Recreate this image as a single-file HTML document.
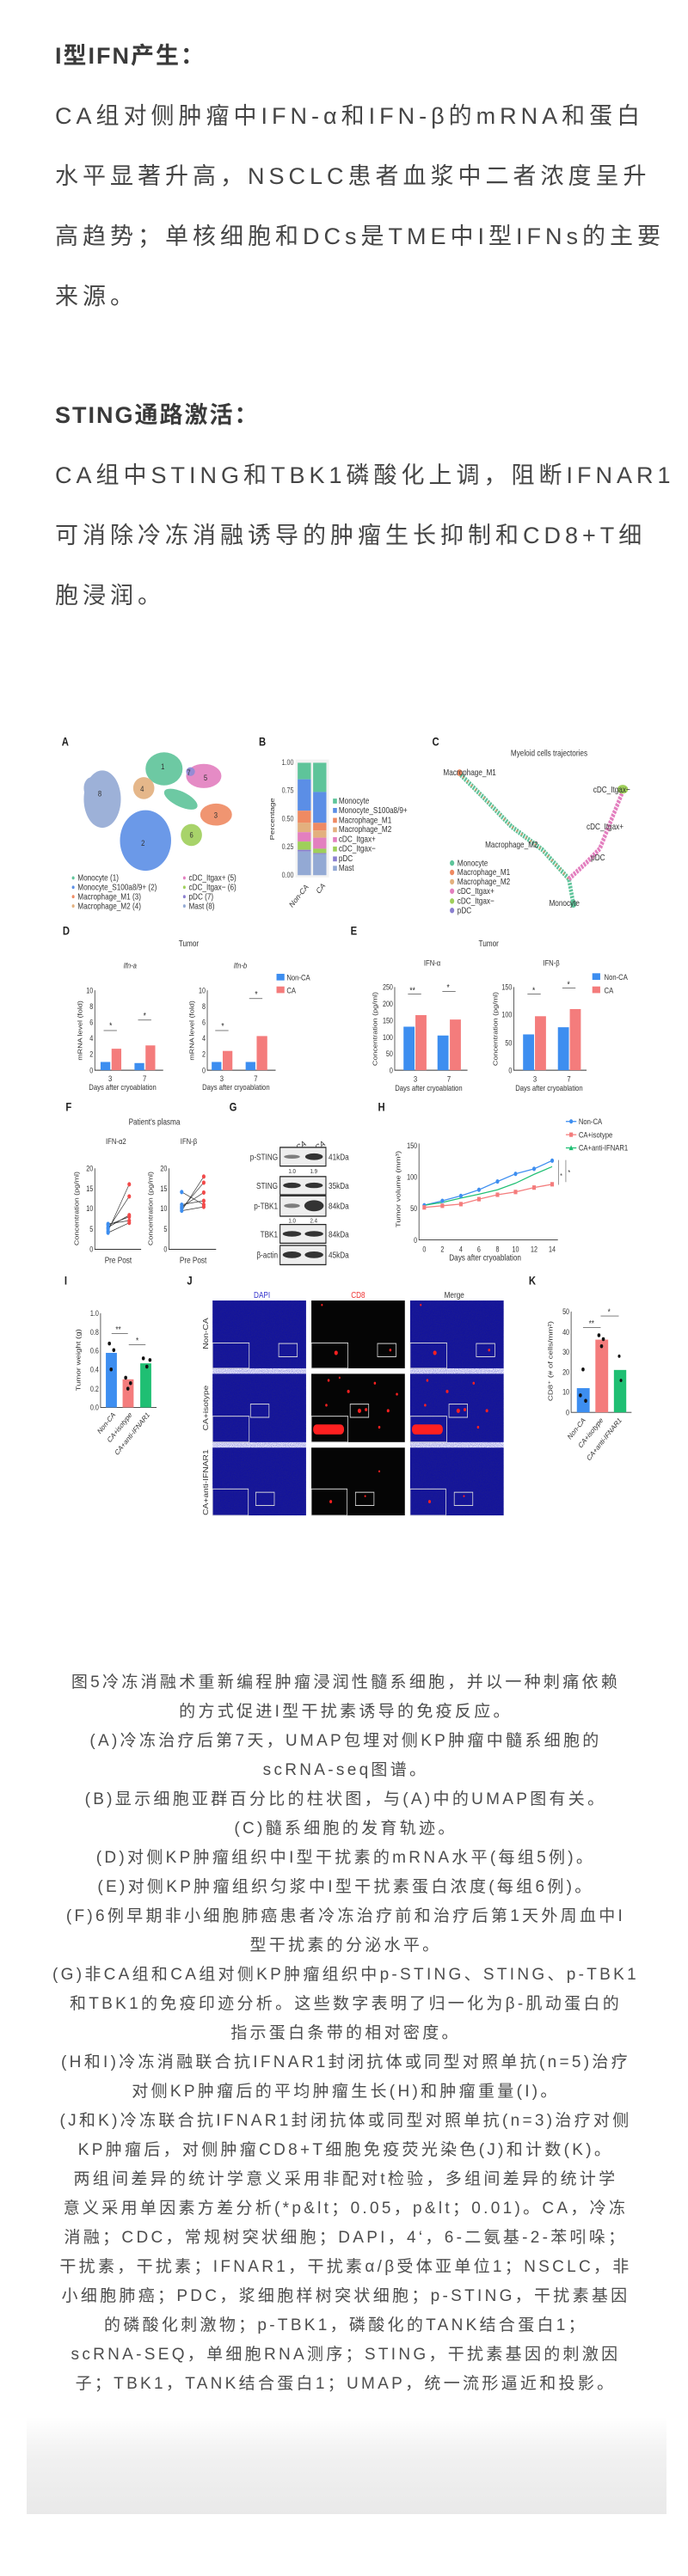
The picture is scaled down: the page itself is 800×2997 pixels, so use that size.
<!DOCTYPE html>
<html><head><meta charset="utf-8">
<style>
html,body{margin:0;padding:0;background:#fff;}
body{width:800px;height:2997px;position:relative;overflow:hidden;font-family:"Liberation Sans","Noto Sans CJK SC",sans-serif;}
.blk{position:absolute;left:64px;width:682px;color:#454545;font-size:27px;letter-spacing:5px;line-height:70px;}
.blk span{display:block;white-space:nowrap;}
.blk .j{text-align:justify;text-align-last:justify;}
.blk .h{font-weight:bold;color:#3a3a3a;letter-spacing:2px;}
.cap{position:absolute;left:0;width:804px;top:1941px;text-align:center;color:#4d4d4d;font-size:19px;letter-spacing:3.3px;line-height:34px;}
.cap span{display:block;white-space:nowrap;}
.gray{position:absolute;left:31px;top:2812px;width:744px;height:113px;background:linear-gradient(#ffffff,#f1f1f1 40%,#e9e9e9);}
svg text{font-family:"Liberation Sans",sans-serif;}
</style></head><body>

<div class="blk" style="top:30px">
<span class="h">I型IFN产生：</span>
<span class="j">CA组对侧肿瘤中IFN-α和IFN-β的mRNA和蛋白</span>
<span class="j">水平显著升高，NSCLC患者血浆中二者浓度呈升</span>
<span class="j">高趋势；单核细胞和DCs是TME中I型IFNs的主要</span>
<span>来源。</span>
</div>

<div class="blk" style="top:448px">
<span class="h">STING通路激活：</span>
<span class="j">CA组中STING和TBK1磷酸化上调，阻断IFNAR1</span>
<span class="j">可消除冷冻消融诱导的肿瘤生长抑制和CD8+T细</span>
<span>胞浸润。</span>
</div>

<svg style="position:absolute;left:0;top:840px" width="800" height="1000" viewBox="0 0 1560 1560" preserveAspectRatio="none">
<defs>
<filter id="spk"><feTurbulence type="fractalNoise" baseFrequency="0.9" numOctaves="1" result="n"/><feColorMatrix in="n" type="matrix" values="0 0 0 0 0  0 0 0 0 0  0 0 0 0 0.5  0 0 0 1.2 -0.4" result="m"/><feComposite in="m" in2="SourceGraphic" operator="in"/></filter>
</defs>
<g font-weight="bold" font-size="22" fill="#222">
<text x="140" y="43">A</text><text x="587" y="43">B</text><text x="980" y="43">C</text>
<text x="142" y="386">D</text><text x="795" y="386">E</text>
<text x="149" y="706">F</text><text x="520" y="706">G</text><text x="857" y="706">H</text>
<text x="146" y="1021">I</text><text x="424" y="1021">J</text><text x="1199" y="1021">K</text>
</g>
<!-- A UMAP -->
<g opacity="0.9">
<ellipse cx="232" cy="140" rx="42" ry="52" fill="#93a9d4"/>
<ellipse cx="208" cy="120" rx="18" ry="20" fill="#93a9d4"/>
<ellipse cx="330" cy="215" rx="58" ry="55" fill="#5b8ee6"/>
<ellipse cx="372" cy="85" rx="42" ry="30" fill="#5ec49a"/>
<ellipse cx="410" cy="140" rx="40" ry="14" fill="#5ec49a" transform="rotate(20 410 140)"/>
<ellipse cx="326" cy="120" rx="24" ry="20" fill="#e3b07e"/>
<ellipse cx="462" cy="98" rx="40" ry="22" fill="#e37fbf"/>
<ellipse cx="432" cy="90" rx="10" ry="8" fill="#8a7fd0"/>
<ellipse cx="490" cy="168" rx="36" ry="20" fill="#ef8a62"/>
<ellipse cx="434" cy="205" rx="24" ry="20" fill="#9fcf5a"/>
</g>
<g font-size="15" fill="#333"><text x="365" y="86">1</text><text x="320" y="225">2</text><text x="485" y="174">3</text><text x="318" y="126">4</text><text x="462" y="106">5</text><text x="430" y="210">6</text><text x="424" y="97">7</text><text x="222" y="135">8</text></g>
<g font-size="16" fill="#333">
<circle cx="166" cy="283" r="3" fill="#5ec49a"/><text x="176" y="288">Monocyte (1)</text>
<circle cx="166" cy="300" r="3" fill="#5b8ee6"/><text x="176" y="305">Monocyte_S100a8/9+ (2)</text>
<circle cx="166" cy="317" r="3" fill="#ef8a62"/><text x="176" y="322">Macrophage_M1 (3)</text>
<circle cx="166" cy="334" r="3" fill="#e3b07e"/><text x="176" y="339">Macrophage_M2 (4)</text>
<circle cx="418" cy="283" r="3" fill="#e37fbf"/><text x="428" y="288">cDC_Itgax+ (5)</text>
<circle cx="418" cy="300" r="3" fill="#9fcf5a"/><text x="428" y="305">cDC_Itgax− (6)</text>
<circle cx="418" cy="317" r="3" fill="#8a7fd0"/><text x="428" y="322">pDC (7)</text>
<circle cx="418" cy="334" r="3" fill="#93a9d4"/><text x="428" y="339">Mast (8)</text>
</g>
<!-- B stacked -->
<rect x="670" y="68" width="76" height="214" fill="#f2f2f2"/>
<g font-size="14" fill="#444" text-anchor="end">
<text x="666" y="78">1.00</text><text x="666" y="129">0.75</text><text x="666" y="180">0.50</text><text x="666" y="231">0.25</text><text x="666" y="282">0.00</text></g>
<text transform="translate(622,176) rotate(-90)" font-size="15" text-anchor="middle" fill="#333">Percentage</text>
<g>
<rect x="675" y="74" width="30" height="30" fill="#5ec49a"/><rect x="675" y="104" width="30" height="57" fill="#5b8ee6"/><rect x="675" y="161" width="30" height="22" fill="#ef8a62"/><rect x="675" y="183" width="30" height="17" fill="#e3b07e"/><rect x="675" y="200" width="30" height="17" fill="#e37fbf"/><rect x="675" y="217" width="30" height="15" fill="#9fcf5a"/><rect x="675" y="232" width="30" height="3" fill="#8a7fd0"/><rect x="675" y="235" width="30" height="43" fill="#93a9d4"/>
<rect x="710" y="74" width="30" height="53" fill="#5ec49a"/><rect x="710" y="127" width="30" height="56" fill="#5b8ee6"/><rect x="710" y="183" width="30" height="14" fill="#ef8a62"/><rect x="710" y="197" width="30" height="13" fill="#e3b07e"/><rect x="710" y="210" width="30" height="20" fill="#e37fbf"/><rect x="710" y="230" width="30" height="8" fill="#9fcf5a"/><rect x="710" y="238" width="30" height="2" fill="#8a7fd0"/><rect x="710" y="240" width="30" height="38" fill="#93a9d4"/>
</g>
<g font-size="15" fill="#333">
<text transform="translate(700,300) rotate(-45)" text-anchor="end">Non-CA</text><text transform="translate(738,298) rotate(-45)" text-anchor="end">CA</text></g>
<g font-size="16" fill="#333">
<rect x="755" y="139" width="9" height="9" fill="#5ec49a"/><text x="768" y="148">Monocyte</text>
<rect x="755" y="156" width="9" height="9" fill="#5b8ee6"/><text x="768" y="165">Monocyte_S100a8/9+</text>
<rect x="755" y="174" width="9" height="9" fill="#ef8a62"/><text x="768" y="183">Macrophage_M1</text>
<rect x="755" y="191" width="9" height="9" fill="#e3b07e"/><text x="768" y="200">Macrophage_M2</text>
<rect x="755" y="209" width="9" height="9" fill="#e37fbf"/><text x="768" y="218">cDC_Itgax+</text>
<rect x="755" y="226" width="9" height="9" fill="#9fcf5a"/><text x="768" y="235">cDC_Itgax−</text>
<rect x="755" y="244" width="9" height="9" fill="#8a7fd0"/><text x="768" y="253">pDC</text>
<rect x="755" y="261" width="9" height="9" fill="#93a9d4"/><text x="768" y="270">Mast</text>
</g>
<!-- C trajectory -->
<text x="1245" y="62" font-size="16" text-anchor="middle" fill="#333">Myeloid cells trajectories</text>
<polyline points="1040,92 1100,140 1160,190 1230,232 1290,285 1300,330" fill="none" stroke="#5ec49a" stroke-width="9" stroke-dasharray="4 2"/>
<polyline points="1040,92 1100,140 1160,190 1230,232 1290,285" fill="none" stroke="#ef8a62" stroke-width="4" stroke-dasharray="3 9" opacity="0.8"/>
<polyline points="1290,285 1330,255 1360,230 1385,180 1410,130" fill="none" stroke="#e37fbf" stroke-width="9" stroke-dasharray="5 2"/>
<ellipse cx="1412" cy="122" rx="12" ry="8" fill="#9fcf5a"/>
<circle cx="1300" cy="330" r="7" fill="#5ec49a"/><circle cx="1042" cy="92" r="6" fill="#ef8a62"/>
<g font-size="16" fill="#333">
<text x="1005" y="97">Macrophage_M1</text><text x="1345" y="128">cDC_Itgax−</text><text x="1330" y="195">cDC_Itgax+</text><text x="1100" y="228">Macrophage_M2</text><text x="1340" y="251">pDC</text><text x="1245" y="334">Monocyte</text>
<circle cx="1025" cy="256" r="5" fill="#5ec49a"/><text x="1037" y="261">Monocyte</text>
<circle cx="1025" cy="273" r="5" fill="#ef8a62"/><text x="1037" y="278">Macrophage_M1</text>
<circle cx="1025" cy="290" r="5" fill="#e3b07e"/><text x="1037" y="295">Macrophage_M2</text>
<circle cx="1025" cy="307" r="5" fill="#e37fbf"/><text x="1037" y="312">cDC_Itgax+</text>
<circle cx="1025" cy="325" r="5" fill="#9fcf5a"/><text x="1037" y="330">cDC_Itgax−</text>
<circle cx="1025" cy="342" r="5" fill="#8a7fd0"/><text x="1037" y="347">pDC</text>
</g>
<!-- D -->
<g font-size="15" fill="#333" stroke="none">
<text x="428" y="407" text-anchor="middle" font-size="16">Tumor</text>
<text x="295" y="447" text-anchor="middle" font-style="italic">Ifn-a</text>
<text x="545" y="447" text-anchor="middle" font-style="italic">Ifn-b</text>
<g text-anchor="end" font-size="14"><text x="211" y="637">0</text><text x="211" y="608">2</text><text x="211" y="579">4</text><text x="211" y="550">6</text><text x="211" y="521">8</text><text x="211" y="492">10</text>
<text x="466" y="637">0</text><text x="466" y="608">2</text><text x="466" y="579">4</text><text x="466" y="550">6</text><text x="466" y="521">8</text><text x="466" y="492">10</text></g>
<text x="250" y="652" text-anchor="middle">3</text><text x="328" y="652" text-anchor="middle">7</text>
<text x="503" y="652" text-anchor="middle">3</text><text x="580" y="652" text-anchor="middle">7</text>
<text x="278" y="668" text-anchor="middle">Days after cryoablation</text>
<text x="535" y="668" text-anchor="middle">Days after cryoablation</text>
<text transform="translate(186,560) rotate(-90)" text-anchor="middle" font-size="14">mRNA level (fold)</text>
<text transform="translate(440,560) rotate(-90)" text-anchor="middle" font-size="14">mRNA level (fold)</text>
<rect x="627" y="457" width="18" height="12" fill="#3d8ef0"/><text x="650" y="469">Non-CA</text>
<rect x="627" y="480" width="18" height="12" fill="#f47c7c"/><text x="650" y="492">CA</text>
</g>
<g stroke="#333" stroke-width="1.5" fill="none"><polyline points="215,487 215,632 370,632"/><polyline points="470,487 470,632 625,632"/></g>
<g>
<rect x="228" y="617" width="22" height="15" fill="#3d8ef0"/><rect x="253" y="593" width="22" height="39" fill="#f47c7c"/>
<rect x="305" y="619" width="22" height="13" fill="#3d8ef0"/><rect x="330" y="587" width="22" height="45" fill="#f47c7c"/>
<rect x="480" y="617" width="22" height="15" fill="#3d8ef0"/><rect x="505" y="597" width="22" height="35" fill="#f47c7c"/>
<rect x="557" y="617" width="22" height="15" fill="#3d8ef0"/><rect x="582" y="570" width="24" height="62" fill="#f47c7c"/>
</g>
<g fill="#222"><text x="248" y="556" font-size="16">*</text><text x="325" y="538" font-size="16">*</text><text x="502" y="557" font-size="16">*</text><text x="578" y="499" font-size="16">*</text></g>
<g stroke="#333" stroke-width="1"><line x1="235" y1="560" x2="265" y2="560"/><line x1="313" y1="541" x2="343" y2="541"/><line x1="488" y1="560" x2="518" y2="560"/><line x1="565" y1="502" x2="595" y2="502"/></g>
<!-- E -->
<g font-size="15" fill="#333">
<text x="1108" y="407" text-anchor="middle" font-size="16">Tumor</text>
<text x="980" y="442" text-anchor="middle">IFN-α</text><text x="1250" y="442" text-anchor="middle">IFN-β</text>
<g text-anchor="end" font-size="14"><text x="891" y="637">0</text><text x="891" y="607">50</text><text x="891" y="577">100</text><text x="891" y="547">150</text><text x="891" y="516">200</text><text x="891" y="486">250</text>
<text x="1161" y="637">0</text><text x="1161" y="587">50</text><text x="1161" y="536">100</text><text x="1161" y="486">150</text></g>
<text x="942" y="653" text-anchor="middle">3</text><text x="1018" y="653" text-anchor="middle">7</text>
<text x="1213" y="653" text-anchor="middle">3</text><text x="1290" y="653" text-anchor="middle">7</text>
<text x="972" y="669" text-anchor="middle">Days after cryoablation</text><text x="1245" y="669" text-anchor="middle">Days after cryoablation</text>
<text transform="translate(855,557) rotate(-90)" text-anchor="middle" font-size="14">Concentration (pg/ml)</text>
<text transform="translate(1128,557) rotate(-90)" text-anchor="middle" font-size="14">Concentration (pg/ml)</text>
<rect x="1343" y="456" width="18" height="12" fill="#3d8ef0"/><text x="1370" y="468">Non-CA</text>
<rect x="1343" y="480" width="18" height="12" fill="#f47c7c"/><text x="1370" y="492">CA</text>
</g>
<g stroke="#333" stroke-width="1.5" fill="none"><polyline points="895,481 895,632 1060,632"/><polyline points="1165,481 1165,632 1330,632"/></g>
<rect x="915" y="553" width="25" height="79" fill="#3d8ef0"/><rect x="942" y="532" width="25" height="100" fill="#f47c7c"/>
<rect x="992" y="569" width="25" height="63" fill="#3d8ef0"/><rect x="1020" y="540" width="25" height="92" fill="#f47c7c"/>
<rect x="1186" y="567" width="25" height="65" fill="#3d8ef0"/><rect x="1213" y="534" width="25" height="98" fill="#f47c7c"/>
<rect x="1265" y="554" width="25" height="78" fill="#3d8ef0"/><rect x="1292" y="521" width="25" height="111" fill="#f47c7c"/>
<g stroke="#333" stroke-width="1"><line x1="925" y1="494" x2="955" y2="494"/><line x1="1003" y1="489" x2="1033" y2="489"/><line x1="1196" y1="494" x2="1226" y2="494"/><line x1="1275" y1="483" x2="1305" y2="483"/></g>
<g fill="#222" font-size="16"><text x="929" y="492">**</text><text x="1013" y="487">*</text><text x="1207" y="492">*</text><text x="1286" y="481">*</text></g>
<!-- F -->
<g font-size="15" fill="#333">
<text x="350" y="731" text-anchor="middle" font-size="16">Patient's plasma</text>
<text x="263" y="766" text-anchor="middle">IFN-α2</text><text x="428" y="766" text-anchor="middle">IFN-β</text>
<g text-anchor="end" font-size="14"><text x="211" y="962">0</text><text x="211" y="925">5</text><text x="211" y="888">10</text><text x="211" y="852">15</text><text x="211" y="815">20</text>
<text x="379" y="962">0</text><text x="379" y="925">5</text><text x="379" y="888">10</text><text x="379" y="852">15</text><text x="379" y="815">20</text></g>
<text x="268" y="982" text-anchor="middle" font-size="16">Pre Post</text><text x="438" y="982" text-anchor="middle" font-size="16">Pre Post</text>
<text transform="translate(178,883) rotate(-90)" text-anchor="middle" font-size="14">Concentration (pg/ml)</text>
<text transform="translate(346,883) rotate(-90)" text-anchor="middle" font-size="14">Concentration (pg/ml)</text>
</g>
<g stroke="#333" stroke-width="1.5" fill="none"><polyline points="215,810 215,957 320,957"/><polyline points="383,810 383,957 490,957"/></g>
<g stroke="#333" stroke-width="1.2">
<line x1="245" y1="924" x2="293" y2="839"/><line x1="245" y1="920" x2="293" y2="861"/><line x1="245" y1="917" x2="293" y2="895"/><line x1="245" y1="913" x2="293" y2="898"/><line x1="245" y1="911" x2="293" y2="905"/><line x1="245" y1="927" x2="293" y2="909"/>
<line x1="412" y1="887" x2="462" y2="825"/><line x1="412" y1="883" x2="462" y2="836"/><line x1="412" y1="880" x2="462" y2="854"/><line x1="412" y1="876" x2="462" y2="869"/><line x1="412" y1="853" x2="462" y2="876"/><line x1="412" y1="887" x2="462" y2="880"/>
</g>
<g fill="#3d8ef0"><circle cx="245" cy="924" r="4"/><circle cx="245" cy="920" r="4"/><circle cx="245" cy="917" r="4"/><circle cx="245" cy="913" r="4"/><circle cx="245" cy="911" r="4"/><circle cx="245" cy="927" r="4"/>
<circle cx="412" cy="887" r="4"/><circle cx="412" cy="883" r="4"/><circle cx="412" cy="880" r="4"/><circle cx="412" cy="876" r="4"/><circle cx="412" cy="853" r="4"/></g>
<g fill="#f24a4a"><circle cx="293" cy="839" r="4"/><circle cx="293" cy="861" r="4"/><circle cx="293" cy="895" r="4"/><circle cx="293" cy="898" r="4"/><circle cx="293" cy="905" r="4"/><circle cx="293" cy="909" r="4"/>
<circle cx="462" cy="825" r="4"/><circle cx="462" cy="836" r="4"/><circle cx="462" cy="854" r="4"/><circle cx="462" cy="869" r="4"/><circle cx="462" cy="876" r="4"/><circle cx="462" cy="880" r="4"/></g>
<!-- G blot -->
<g font-size="16" fill="#333">
<text transform="translate(695,768) rotate(-30)" text-anchor="end">Non-CA</text><text transform="translate(738,768) rotate(-30)" text-anchor="end">CA</text>
<g text-anchor="end"><text x="630" y="795">p-STING</text><text x="630" y="847">STING</text><text x="630" y="884">p-TBK1</text><text x="630" y="935">TBK1</text><text x="630" y="973">β-actin</text></g>
<g><text x="745" y="795">41kDa</text><text x="745" y="847">35kDa</text><text x="745" y="884">84kDa</text><text x="745" y="935">84kDa</text><text x="745" y="973">45kDa</text></g>
<g font-size="12"><text x="654" y="819">1.0</text><text x="703" y="819">1.9</text><text x="654" y="909">1.0</text><text x="703" y="909">2.4</text></g>
</g>
<g stroke="#222" stroke-width="2" fill="#eee">
<rect x="635" y="772" width="104" height="34"/><rect x="635" y="825" width="104" height="33"/><rect x="635" y="860" width="104" height="37"/><rect x="635" y="912" width="104" height="34"/><rect x="635" y="950" width="104" height="35"/></g>
<g fill="#333">
<ellipse cx="662" cy="789" rx="18" ry="3.5" opacity="0.6"/><ellipse cx="712" cy="789" rx="20" ry="6"/>
<ellipse cx="662" cy="841" rx="20" ry="5"/><ellipse cx="712" cy="841" rx="20" ry="5"/>
<ellipse cx="662" cy="878" rx="18" ry="4" opacity="0.6"/><ellipse cx="712" cy="878" rx="22" ry="10"/>
<ellipse cx="662" cy="929" rx="21" ry="5"/><ellipse cx="712" cy="929" rx="21" ry="5"/>
<ellipse cx="662" cy="967" rx="21" ry="6"/><ellipse cx="712" cy="967" rx="21" ry="6"/></g>
<!-- H -->
<g font-size="15" fill="#333">
<line x1="1283" y1="725" x2="1307" y2="725" stroke="#3d8ef0" stroke-width="2"/><circle cx="1295" cy="725" r="4" fill="#3d8ef0"/><text x="1312" y="730">Non-CA</text>
<line x1="1283" y1="749" x2="1307" y2="749" stroke="#f47c7c" stroke-width="2"/><rect x="1291" y="745" width="8" height="8" fill="#f47c7c"/><text x="1312" y="754">CA+isotype</text>
<line x1="1283" y1="773" x2="1307" y2="773" stroke="#1fbf73" stroke-width="2"/><path d="M1295,768 L1300,777 L1290,777Z" fill="#1fbf73"/><text x="1312" y="778">CA+anti-IFNAR1</text>
<g text-anchor="end" font-size="14"><text x="946" y="945">0</text><text x="946" y="888">50</text><text x="946" y="831">100</text><text x="946" y="774">150</text></g>
<g text-anchor="middle" font-size="14"><text x="962" y="962">0</text><text x="1003" y="962">2</text><text x="1045" y="962">4</text><text x="1086" y="962">6</text><text x="1128" y="962">8</text><text x="1169" y="962">10</text><text x="1211" y="962">12</text><text x="1252" y="962">14</text></g>
<text x="1100" y="977" text-anchor="middle" font-size="16">Days after cryoablation</text>
<text transform="translate(908,848) rotate(-90)" text-anchor="middle">Tumor volume (mm³)</text>
<text x="1270" y="828" font-size="13">*</text><text x="1288" y="822" font-size="13">*</text>
</g>
<g stroke="#333" stroke-width="1.5" fill="none"><polyline points="950,765 950,940 1265,940"/>
<line x1="1267" y1="795" x2="1267" y2="840" stroke-width="1"/><line x1="1283" y1="795" x2="1283" y2="835" stroke-width="1"/></g>
<polyline fill="none" stroke="#3d8ef0" stroke-width="2" points="962,877 1003,869 1045,860 1086,849 1128,834 1169,820 1211,811 1252,796"/>
<polyline fill="none" stroke="#f47c7c" stroke-width="2" points="962,881 1003,878 1045,875 1086,866 1128,858 1169,853 1211,845 1252,839"/>
<polyline fill="none" stroke="#1fbf73" stroke-width="2" points="962,877 1003,872 1045,864 1086,857 1128,849 1169,837 1211,821 1252,807"/>
<g fill="#3d8ef0"><circle cx="962" cy="877" r="4"/><circle cx="1003" cy="869" r="4"/><circle cx="1045" cy="860" r="4"/><circle cx="1086" cy="849" r="4"/><circle cx="1128" cy="834" r="4"/><circle cx="1169" cy="820" r="4"/><circle cx="1211" cy="811" r="4"/><circle cx="1252" cy="796" r="4"/></g>
<g fill="#f47c7c"><rect x="958" y="877" width="8" height="8"/><rect x="999" y="874" width="8" height="8"/><rect x="1041" y="871" width="8" height="8"/><rect x="1082" y="862" width="8" height="8"/><rect x="1124" y="854" width="8" height="8"/><rect x="1165" y="849" width="8" height="8"/><rect x="1207" y="841" width="8" height="8"/><rect x="1248" y="835" width="8" height="8"/></g>
<!-- I -->
<g font-size="14" fill="#333">
<g text-anchor="end"><text x="224" y="1249">0.0</text><text x="224" y="1215">0.2</text><text x="224" y="1180">0.4</text><text x="224" y="1146">0.6</text><text x="224" y="1112">0.8</text><text x="224" y="1078">1.0</text></g>
<text transform="translate(182,1158) rotate(-90)" text-anchor="middle" font-size="15">Tumor weight (g)</text>
<text transform="translate(262,1258) rotate(-45)" text-anchor="end">Non-CA</text>
<text transform="translate(300,1258) rotate(-45)" text-anchor="end">CA+isotype</text>
<text transform="translate(340,1258) rotate(-45)" text-anchor="end">CA+anti-IFNAR1</text>
<text x="262" y="1108" font-size="16">**</text><text x="308" y="1128" font-size="16">*</text>
</g>
<g stroke="#333" stroke-width="1.5" fill="none"><polyline points="228,1073 228,1244 355,1244"/><line x1="253" y1="1110" x2="290" y2="1110" stroke-width="1"/><line x1="292" y1="1130" x2="330" y2="1130" stroke-width="1"/></g>
<rect x="240" y="1145" width="25" height="99" fill="#3d8ef0"/><rect x="278" y="1193" width="25" height="51" fill="#f47c7c"/><rect x="318" y="1164" width="25" height="80" fill="#1fbf73"/>
<g fill="#111"><circle cx="248" cy="1128" r="3.5"/><circle cx="258" cy="1140" r="3.5"/><circle cx="252" cy="1175" r="3.5"/><circle cx="285" cy="1190" r="3.5"/><circle cx="296" cy="1200" r="3.5"/><circle cx="290" cy="1210" r="3.5"/><circle cx="325" cy="1155" r="3.5"/><circle cx="340" cy="1158" r="3.5"/><circle cx="333" cy="1170" r="3.5"/></g>
<!-- J -->
<g font-size="16" text-anchor="middle">
<text x="594" y="1045" fill="#3333cc">DAPI</text><text x="812" y="1045" fill="#e33">CD8</text><text x="1030" y="1045" fill="#333">Merge</text>
<g fill="#333"><text transform="translate(472,1110) rotate(-90)">Non-CA</text><text transform="translate(472,1245) rotate(-90)">CA+isotype</text><text transform="translate(472,1380) rotate(-90)">CA+anti-IFNAR1</text></g>
</g>
<g>
<rect x="482" y="1050" width="212" height="123" fill="#1c1c8e"/><rect x="706" y="1050" width="212" height="123" fill="#050505"/><rect x="930" y="1050" width="212" height="123" fill="#1c1c8e"/>
<rect x="482" y="1183" width="212" height="124" fill="#1c1c8e"/><rect x="706" y="1183" width="212" height="124" fill="#050505"/><rect x="930" y="1183" width="212" height="124" fill="#1c1c8e"/>
<rect x="482" y="1317" width="212" height="123" fill="#1c1c8e"/><rect x="706" y="1317" width="212" height="123" fill="#050505"/><rect x="930" y="1317" width="212" height="123" fill="#1c1c8e"/>
</g>
<g filter="url(#spk)"><rect x="482" y="1050" width="212" height="390" fill="#3a3ad8"/><rect x="930" y="1050" width="212" height="390" fill="#3a3ad8"/></g>
<g fill="none" stroke="#ddd" stroke-width="1.5">
<rect x="482" y="1127" width="83" height="46"/><rect x="632" y="1128" width="42" height="24"/>
<rect x="706" y="1127" width="83" height="46"/><rect x="856" y="1128" width="42" height="24"/>
<rect x="930" y="1127" width="83" height="46"/><rect x="1080" y="1128" width="42" height="24"/>
<rect x="482" y="1260" width="83" height="47"/><rect x="568" y="1238" width="42" height="24"/>
<rect x="706" y="1260" width="83" height="47"/><rect x="794" y="1238" width="42" height="24"/>
<rect x="930" y="1260" width="83" height="47"/><rect x="1018" y="1238" width="42" height="24"/>
<rect x="482" y="1392" width="81" height="48"/><rect x="580" y="1398" width="42" height="24"/>
<rect x="706" y="1392" width="81" height="48"/><rect x="806" y="1398" width="42" height="24"/>
<rect x="930" y="1392" width="81" height="48"/><rect x="1030" y="1398" width="42" height="24"/>
</g>
<g fill="#ff2020">
<circle cx="730" cy="1058" r="2"/><circle cx="885" cy="1140" r="2.5"/><circle cx="762" cy="1145" r="4"/>
<circle cx="954" cy="1058" r="2"/><circle cx="1109" cy="1140" r="2.5"/><circle cx="986" cy="1145" r="4"/>
<circle cx="745" cy="1195" r="2.5"/><circle cx="790" cy="1215" r="3"/><circle cx="850" cy="1200" r="2.5"/><circle cx="880" cy="1250" r="3"/><circle cx="740" cy="1240" r="2.5"/><circle cx="815" cy="1250" r="4"/><circle cx="830" cy="1248" r="3"/><circle cx="860" cy="1280" r="2.5"/><circle cx="900" cy="1220" r="2.5"/><circle cx="770" cy="1190" r="2"/>
<rect x="710" y="1275" width="70" height="18" rx="8"/>
<circle cx="969" cy="1195" r="2.5"/><circle cx="1014" cy="1215" r="3"/><circle cx="1074" cy="1200" r="2.5"/><circle cx="1104" cy="1250" r="3"/><circle cx="964" cy="1240" r="2.5"/><circle cx="1039" cy="1250" r="4"/><circle cx="1054" cy="1248" r="3"/><circle cx="1084" cy="1280" r="2.5"/>
<rect x="934" y="1275" width="70" height="18" rx="8"/>
<circle cx="750" cy="1415" r="3"/><circle cx="828" cy="1405" r="2"/><circle cx="860" cy="1360" r="2"/><circle cx="974" cy="1415" r="3"/><circle cx="1052" cy="1405" r="2"/>
</g>
<!-- K -->
<g font-size="14" fill="#333">
<g text-anchor="end"><text x="1291" y="1258">0</text><text x="1291" y="1221">10</text><text x="1291" y="1185">20</text><text x="1291" y="1148">30</text><text x="1291" y="1112">40</text><text x="1291" y="1075">50</text></g>
<text transform="translate(1253,1160) rotate(-90)" text-anchor="middle" font-size="15">CD8⁺ (# of cells/mm²)</text>
<text transform="translate(1328,1268) rotate(-45)" text-anchor="end">Non-CA</text>
<text transform="translate(1368,1268) rotate(-45)" text-anchor="end">CA+isotype</text>
<text transform="translate(1410,1268) rotate(-45)" text-anchor="end">CA+anti-IFNAR1</text>
<text x="1335" y="1097" font-size="16">**</text><text x="1378" y="1076" font-size="16">*</text>
</g>
<g stroke="#333" stroke-width="1.5" fill="none"><polyline points="1295,1070 1295,1253 1432,1253"/><line x1="1322" y1="1099" x2="1362" y2="1099" stroke-width="1"/><line x1="1362" y1="1078" x2="1403" y2="1078" stroke-width="1"/></g>
<rect x="1308" y="1209" width="29" height="44" fill="#3d8ef0"/><rect x="1350" y="1121" width="29" height="132" fill="#f47c7c"/><rect x="1392" y="1176" width="28" height="77" fill="#1fbf73"/>
<g fill="#111"><circle cx="1322" cy="1175" r="3.5"/><circle cx="1316" cy="1222" r="3.5"/><circle cx="1328" cy="1232" r="3.5"/><circle cx="1358" cy="1113" r="3.5"/><circle cx="1368" cy="1120" r="3.5"/><circle cx="1364" cy="1133" r="3.5"/><circle cx="1404" cy="1151" r="3"/><circle cx="1408" cy="1195" r="3"/></g>
</svg>

<div class="cap">
<span>图5冷冻消融术重新编程肿瘤浸润性髓系细胞，并以一种刺痛依赖</span>
<span>的方式促进I型干扰素诱导的免疫反应。</span>
<span>(A)冷冻治疗后第7天，UMAP包埋对侧KP肿瘤中髓系细胞的</span>
<span>scRNA-seq图谱。</span>
<span>(B)显示细胞亚群百分比的柱状图，与(A)中的UMAP图有关。</span>
<span>(C)髓系细胞的发育轨迹。</span>
<span>(D)对侧KP肿瘤组织中I型干扰素的mRNA水平(每组5例)。</span>
<span>(E)对侧KP肿瘤组织匀浆中I型干扰素蛋白浓度(每组6例)。</span>
<span>(F)6例早期非小细胞肺癌患者冷冻治疗前和治疗后第1天外周血中I</span>
<span>型干扰素的分泌水平。</span>
<span>(G)非CA组和CA组对侧KP肿瘤组织中p-STING、STING、p-TBK1</span>
<span>和TBK1的免疫印迹分析。这些数字表明了归一化为β-肌动蛋白的</span>
<span>指示蛋白条带的相对密度。</span>
<span>(H和I)冷冻消融联合抗IFNAR1封闭抗体或同型对照单抗(n=5)治疗</span>
<span>对侧KP肿瘤后的平均肿瘤生长(H)和肿瘤重量(I)。</span>
<span>(J和K)冷冻联合抗IFNAR1封闭抗体或同型对照单抗(n=3)治疗对侧</span>
<span>KP肿瘤后，对侧肿瘤CD8+T细胞免疫荧光染色(J)和计数(K)。</span>
<span>两组间差异的统计学意义采用非配对t检验，多组间差异的统计学</span>
<span>意义采用单因素方差分析(*p&amp;lt；0.05，p&amp;lt；0.01)。CA，冷冻</span>
<span>消融；CDC，常规树突状细胞；DAPI，4‘，6-二氨基-2-苯吲哚；</span>
<span>干扰素，干扰素；IFNAR1，干扰素α/β受体亚单位1；NSCLC，非</span>
<span>小细胞肺癌；PDC，浆细胞样树突状细胞；p-STING，干扰素基因</span>
<span>的磷酸化刺激物；p-TBK1，磷酸化的TANK结合蛋白1；</span>
<span>scRNA-SEQ，单细胞RNA测序；STING，干扰素基因的刺激因</span>
<span>子；TBK1，TANK结合蛋白1；UMAP，统一流形逼近和投影。</span>
</div>

<div class="gray"></div>
</body></html>
